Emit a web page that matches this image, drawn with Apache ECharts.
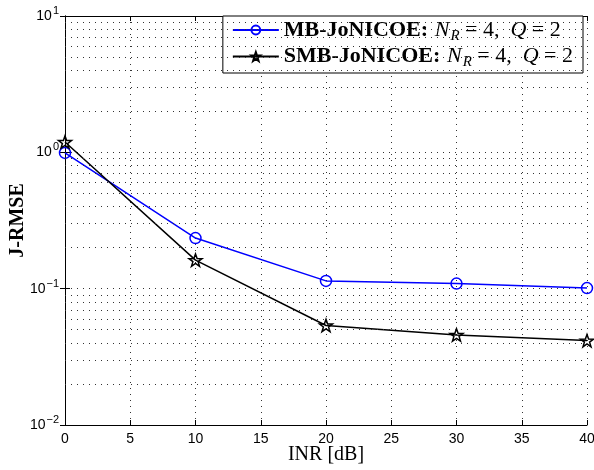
<!DOCTYPE html>
<html>
<head>
<meta charset="utf-8">
<script src="https://cdn.jsdelivr.net/npm/echarts@6/dist/echarts.min.js"></script>
<style>
  html, body { margin: 0; padding: 0; background: #fff; }
  #chart { width: 594px; height: 470px; }
</style>
</head>
<body>
<div id="chart"></div>
<script>
var inr = [0, 10, 20, 30, 40];
var mbRmse = [0.99, 0.235, 0.114, 0.109, 0.101];
var smbRmse = [1.19, 0.162, 0.0537, 0.0458, 0.0416];
var minorLevels = [0.02, 0.03, 0.04, 0.05, 0.06, 0.07, 0.08, 0.09,
                   0.2, 0.3, 0.4, 0.5, 0.6, 0.7, 0.8, 0.9,
                   2, 3, 4, 5, 6, 7, 8, 9];
var legendMath = {
  'MB-JoNICOE': '{b|MB-JoNICOE:}  {i|N}{s|R}{n| = 4,  }{i|Q}{n| = 2}',
  'SMB-JoNICOE': '{b|SMB-JoNICOE:}  {i|N}{s|R}{n| = 4,  }{i|Q}{n| = 2}'
};

var star = 'path://M0,-10L2.35,-3.24L9.51,-3.09L3.8,1.24L5.88,8.09L0,4L-5.88,8.09L-3.8,1.24L-9.51,-3.09L-2.35,-3.24Z';
var serif = '"Liberation Serif", "DejaVu Serif", serif';
var sans = '"Liberation Sans", Arial, sans-serif';
var dotted = { color: '#333', width: 1, type: [1, 5] };

function pairs(xs, ys) {
  return xs.map(function(x, i) { return [x, ys[i]]; });
}

var chart = echarts.init(document.getElementById('chart'), null, { renderer: 'canvas' });
chart.setOption({
  animation: false,
  backgroundColor: '#fff',
  grid: { left: 65, right: 7, top: 16, bottom: 45, outerBoundsMode: 'none', containLabel: false },
  legend: {
    orient: 'vertical',
    right: 11,
    top: 16,
    padding: [3, 10, 3, 9],
    itemGap: 2,
    itemWidth: 46,
    itemHeight: 11,
    backgroundColor: '#fff',
    borderColor: '#000',
    borderWidth: 1,
    borderRadius: 0,
    data: ['MB-JoNICOE', 'SMB-JoNICOE'],
    formatter: function(name) { return legendMath[name]; },
    textStyle: {
      color: '#000',
      rich: {
        b: { fontFamily: serif, fontWeight: 'bold', fontSize: 22, lineHeight: 24, color: '#000' },
        i: { fontFamily: serif, fontStyle: 'italic', fontSize: 22, lineHeight: 24, color: '#000' },
        s: { fontFamily: serif, fontStyle: 'italic', fontSize: 15, color: '#000', verticalAlign: 'bottom', padding: [12, 0, 0, 1] },
        n: { fontFamily: serif, fontSize: 22, lineHeight: 24, color: '#000' }
      }
    }
  },
  xAxis: [{
    type: 'value',
    min: 0,
    max: 40,
    interval: 5,
    name: 'INR [dB]',
    nameLocation: 'middle',
    nameGap: 20,
    nameMoveOverlap: false,
    nameTextStyle: { fontFamily: serif, fontSize: 20, color: '#000' },
    axisLine: { lineStyle: { color: '#000', width: 1 } },
    axisTick: { inside: true, length: 5, lineStyle: { color: '#000' } },
    axisLabel: { fontFamily: sans, fontSize: 14, color: '#000', margin: 7 },
    splitLine: { show: true, lineStyle: dotted }
  }, {
    type: 'value',
    position: 'top',
    min: 0,
    max: 40,
    interval: 5,
    axisLine: { show: true, lineStyle: { color: '#000', width: 1 } },
    axisTick: { show: true, inside: true, length: 5, lineStyle: { color: '#000' } },
    axisLabel: { show: false },
    splitLine: { show: false }
  }],
  yAxis: [{
    type: 'log',
    logBase: 10,
    min: 0.01,
    max: 10,
    name: 'J-RMSE',
    nameLocation: 'middle',
    nameGap: 37,
    nameMoveOverlap: false,
    nameTextStyle: { fontFamily: serif, fontSize: 20, fontWeight: 'bold', color: '#000' },
    axisLine: { show: true, lineStyle: { color: '#000', width: 1 } },
    axisTick: { show: true, inside: true, length: 5, lineStyle: { color: '#000' } },
    axisLabel: {
      margin: 6,
      formatter: function(v) {
        var e = Math.round(Math.log10(v));
        return '{m|10}{e|' + (e < 0 ? '\u2212' + (-e) : e) + '}';
      },
      rich: {
        m: { fontFamily: sans, fontSize: 14, color: '#000' },
        e: { fontFamily: sans, fontSize: 11, color: '#000', verticalAlign: 'top', padding: [0, 0, 10, 1] }
      }
    },
    splitLine: { show: true, lineStyle: dotted }
  }, {
    type: 'log',
    logBase: 10,
    min: 0.01,
    max: 10,
    position: 'right',
    axisLine: { show: true, lineStyle: { color: '#000', width: 1 } },
    axisTick: { show: true, inside: true, length: 5, lineStyle: { color: '#000' } },
    axisLabel: { show: false },
    splitLine: { show: false }
  }],
  series: [{
    name: 'grid-minor',
    type: 'line',
    data: [],
    silent: true,
    markLine: {
      silent: true,
      symbol: 'none',
      label: { show: false },
      lineStyle: dotted,
      data: minorLevels.map(function(v) { return { yAxis: v }; })
    }
  }, {
    name: 'MB-JoNICOE',
    type: 'line',
    data: pairs(inr, mbRmse),
    symbol: 'circle',
    symbolSize: 11,
    lineStyle: { color: '#0000ff', width: 1.5 },
    itemStyle: { color: 'rgba(0,0,0,0)', borderColor: '#0000ff', borderWidth: 1.5 },
    z: 3
  }, {
    name: 'SMB-JoNICOE',
    type: 'line',
    data: pairs(inr, smbRmse),
    symbol: star,
    symbolSize: 13,
    symbolKeepAspect: true,
    lineStyle: { color: '#000', width: 1.5 },
    itemStyle: { color: 'rgba(0,0,0,0)', borderColor: '#000', borderWidth: 1.5 },
    z: 4
  }]
});
</script>
</body>
</html>
